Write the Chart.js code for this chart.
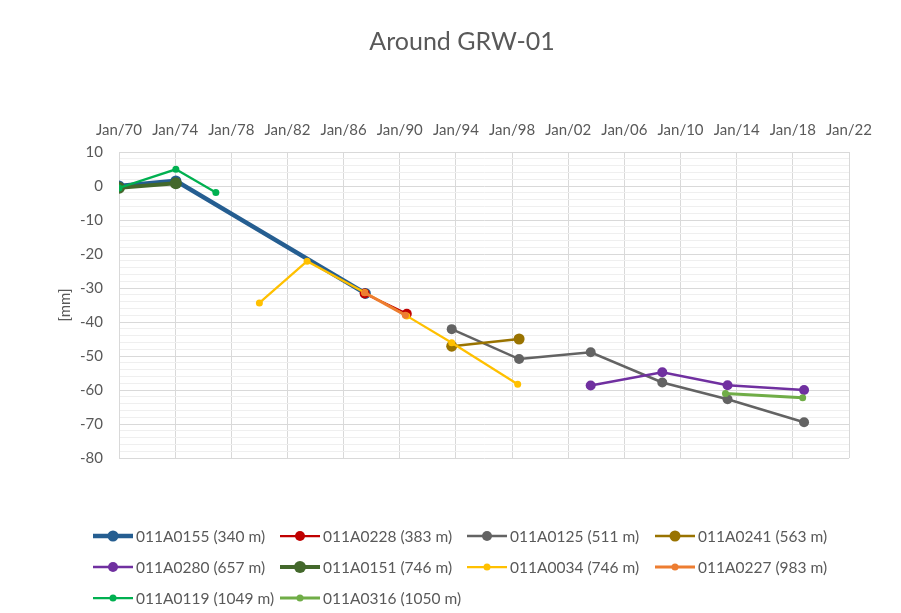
<!DOCTYPE html>
<html>
<head>
<meta charset="utf-8">
<script src="https://cdn.jsdelivr.net/npm/chart.js@4"></script>
<style>
  body { margin: 0; background: #fff; }
  canvas { display: block; }
</style>
</head>
<body>
<canvas id="c" width="901" height="613"></canvas>
<script>
// years (decimal) and settlement [mm] per benchmark
const names = ['011A0155 (340 m)', '011A0228 (383 m)', '011A0125 (511 m)', '011A0241 (563 m)',
  '011A0280 (657 m)', '011A0151 (746 m)', '011A0034 (746 m)', '011A0227 (983 m)',
  '011A0119 (1049 m)', '011A0316 (1050 m)'];

const yrs0155 = [1970.0, 1974.05, 1987.55];
const mm0155 = [0, 1.5, -31.6];
const yrs0228 = [1987.5, 1990.5];
const mm0228 = [-31.6, -37.6];
const yrs0125 = [1993.7, 1998.5, 2003.6, 2008.7, 2013.35, 2018.8];
const mm0125 = [-42.1, -50.9, -48.9, -57.8, -62.7, -69.5];
const yrs0241 = [1993.7, 1998.5];
const mm0241 = [-47.1, -45.0];
const yrs0280 = [2003.6, 2008.7, 2013.35, 2018.8];
const mm0280 = [-58.7, -54.8, -58.6, -60.0];
const yrs0151 = [1970.0, 1974.05];
const mm0151 = [-0.5, 0.8];
const yrs0034 = [1980.0, 1983.4, 1987.5, 1990.5, 1993.7, 1998.4];
const mm0034 = [-34.4, -22.1, -31.3, -38.2, -46.1, -58.3];
const yrs0227 = [1987.5, 1990.4];
const mm0227 = [-31.4, -38.0];
const yrs0119 = [1970.0, 1974.05, 1976.9];
const mm0119 = [-0.6, 4.9, -1.9];
const yrs0316 = [2013.2, 2018.7];
const mm0316 = [-61.0, -62.3];

const xTicks = [1970, 1974, 1978, 1982, 1986, 1990, 1994, 1998, 2002, 2006, 2010, 2014, 2018, 2022];

const seriesX = [yrs0155, yrs0228, yrs0125, yrs0241, yrs0280, yrs0151, yrs0034, yrs0227, yrs0119, yrs0316];
const seriesY = [mm0155, mm0228, mm0125, mm0241, mm0280, mm0151, mm0034, mm0227, mm0119, mm0316];

const colors = ['#255E91', '#C00000', '#636363', '#997300', '#7030A0', '#43682B', '#FFC000', '#ED7D31', '#00B050', '#70AD47'];
const widths = [4.5, 2.25, 2.5, 2.5, 2.5, 4, 2.25, 3, 2.25, 3];
const radii = [5.5, 5, 5, 5.5, 5, 6, 3.5, 3.5, 3.5, 3.5];

const font = 'Lato';
const grey = '#595959';

const datasets = names.map((n, i) => ({
  label: n,
  data: seriesX[i].map((x, k) => ({ x: x, y: seriesY[i][k] })),
  borderColor: colors[i],
  backgroundColor: colors[i],
  borderWidth: widths[i],
  pointRadius: radii[i],
  pointBorderWidth: 0,
  pointHoverRadius: radii[i],
  tension: 0,
  order: 20 - i
}));

// legend drawn at fixed grid like the Excel one
const legendPlugin = {
  id: 'gridLegend',
  afterDraw(chart) {
    const ctx = chart.ctx;
    const colX = [93, 280, 467, 655];
    const rowY = [536, 567, 598];
    ctx.save();
    ctx.font = '15.5px ' + font;
    ctx.textBaseline = 'middle';
    ctx.textAlign = 'left';
    chart.data.datasets.forEach((ds, i) => {
      const x = colX[i % 4], y = rowY[Math.floor(i / 4)];
      ctx.strokeStyle = ds.borderColor;
      ctx.lineWidth = ds.borderWidth;
      ctx.beginPath();
      ctx.moveTo(x, y);
      ctx.lineTo(x + 40, y);
      ctx.stroke();
      ctx.fillStyle = ds.borderColor;
      ctx.beginPath();
      ctx.arc(x + 20, y, ds.pointRadius, 0, Math.PI * 2);
      ctx.fill();
      ctx.fillStyle = grey;
      ctx.fillText(ds.label, x + 43, y + 1);
    });
    ctx.restore();
  }
};

new Chart(document.getElementById('c'), {
  type: 'line',
  data: { datasets: datasets },
  options: {
    responsive: false,
    animation: false,
    devicePixelRatio: 1,
    layout: { padding: { left: 23, right: 0, top: 0, bottom: 155 } },
    plugins: {
      legend: { display: false },
      tooltip: { enabled: false },
      title: {
        display: true,
        text: 'Around GRW-01',
        color: grey,
        font: { family: font, size: 25, weight: 'normal' },
        padding: { top: 27, bottom: 0 }
      }
    },
    scales: {
      x: {
        type: 'linear',
        position: 'top',
        min: 1970,
        max: 2022,
        afterBuildTicks(scale) { scale.ticks = xTicks.map(v => ({ value: v })); },
        afterFit(scale) { scale.height = 95; },
        ticks: {
          color: grey,
          font: { family: font, size: 15 },
          padding: 13,
          maxRotation: 0,
          autoSkip: false,
          callback: v => 'Jan/' + String(v).slice(2)
        },
        grid: { color: '#D9D9D9', lineWidth: 1, drawTicks: false },
        border: { color: '#D9D9D9' }
      },
      y: {
        min: -80,
        max: 10,
        afterFit(scale) { scale.width = 96; },
        ticks: {
          stepSize: 2,
          autoSkip: false,
          color: grey,
          font: { family: font, size: 15 },
          padding: 16,
          callback: v => (v % 10 === 0 ? String(v) : '')
        },
        grid: {
          drawTicks: false,
          color: c => (c.tick && c.tick.value % 10 === 0 ? '#D9D9D9' : '#EFEFEF')
        },
        border: { color: '#D9D9D9' },
        title: {
          display: true,
          text: '[mm]',
          color: grey,
          font: { family: font, size: 15 },
          padding: { top: 33, bottom: 0 }
        }
      },
      yRight: {
        position: 'right',
        display: true,
        afterFit(scale) { scale.width = 52; },
        ticks: { display: false },
        grid: { display: false, drawTicks: false },
        border: { display: false }
      }
    }
  },
  plugins: [legendPlugin]
});
</script>
</body>
</html>
